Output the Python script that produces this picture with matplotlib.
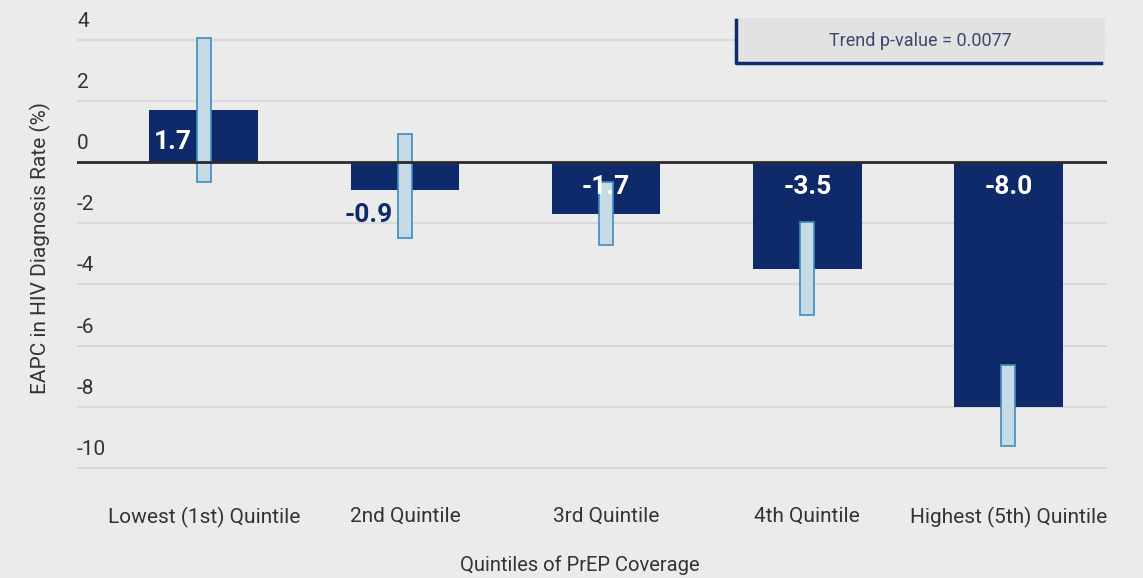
import matplotlib.pyplot as plt
from matplotlib.patches import Rectangle
from matplotlib.transforms import ScaledTranslation
import numpy as np

categories = ['Lowest (1st) Quintile', '2nd Quintile', '3rd Quintile',
              '4th Quintile', 'Highest (5th) Quintile']
eapc = [1.7, -0.9, -1.7, -3.5, -8.0]
ci_low = [-0.65, -2.5, -2.7, -5.0, -9.3]
ci_high = [4.05, 0.9, -0.65, -1.95, -6.65]
value_labels = ['1.7', '-0.9', '-1.7', '-3.5', '-8.0']
yticks = [4, 2, 0, -2, -4, -6, -8, -10]
trend_text = 'Trend p-value = 0.0077'

NAVY = '#0f2a6b'
BG = '#ebebeb'
GRID = '#d9d9d9'
TXT = '#333333'
plt.rcParams['font.family'] = ['Roboto', 'DejaVu Sans']

fig = plt.figure(figsize=(11.43, 5.78), dpi=100, facecolor=BG)
ax = fig.add_axes([77 / 1143, 100 / 578, 1030 / 1143, 468 / 578])
ax.set_facecolor(BG)

x = np.arange(len(categories))
bw = 0.54
ax.bar(x, eapc, width=bw, color=NAVY, zorder=3)

# confidence interval boxes
for xi, lo, hi in zip(x, ci_low, ci_high):
    ax.add_patch(Rectangle((xi - 0.035, lo), 0.07, hi - lo, facecolor='#c6dbe5',
                           edgecolor='#3d8cc0', lw=1.2, zorder=4))

ax.set_xlim(-0.63, 4.49)
ax.set_ylim(-10.33, 4.97)

for v in yticks:
    if v == 0:
        ax.axhline(0, color='#2b2b2b', lw=2, zorder=5)
    else:
        ax.axhline(v, color=GRID, lw=1.5, zorder=1)

ax.set_yticks(yticks)
ax.set_yticklabels([str(t) for t in yticks])
ax.tick_params(axis='y', length=0, pad=0, labelsize=15, labelcolor=TXT)
off = ScaledTranslation(0, 13 / 100, fig.dpi_scale_trans)
for lab in ax.get_yticklabels():
    lab.set_ha('left')
    lab.set_va('baseline')
    lab.set_transform(lab.get_transform() + off)

ax.set_xticks(x)
ax.set_xticklabels(categories)
ax.tick_params(axis='x', length=0, pad=21, labelsize=15, labelcolor=TXT)

for s in ax.spines.values():
    s.set_visible(False)

# value labels
for i, (xi, v, lab) in enumerate(zip(x, eapc, value_labels)):
    if i == 0:
        ax.annotate(lab, (xi - bw / 2, 0), xytext=(4, 20), textcoords='offset pixels',
                    ha='left', va='center', color='white', fontsize=19,
                    fontweight='bold', zorder=6)
    elif i == 1:
        ax.annotate(lab, (xi, v), xytext=(-36, -25), textcoords='offset pixels',
                    ha='center', va='center', color=NAVY, fontsize=19,
                    fontweight='bold', zorder=6)
    else:
        ax.annotate(lab, (xi, 0), xytext=(0, -25), textcoords='offset pixels',
                    ha='center', va='center', color='white', fontsize=19,
                    fontweight='bold', zorder=6)

# trend box
ax.add_patch(Rectangle((2.64, 3.2), 1.84, 1.5, facecolor='#e2e2e2',
                       edgecolor='none', clip_on=False, zorder=2))
ax.plot([2.645, 2.645, 4.46], [4.63, 3.25, 3.25], color=NAVY, lw=2.5,
        clip_on=False, zorder=3)
ax.text(3.56, 3.95, trend_text, ha='center', va='center', fontsize=13,
        color='#3b4a6b', zorder=4)

fig.text(40 / 1143, 1 - 248 / 578, 'EAPC in HIV Diagnosis Rate (%)', rotation=90,
         ha='center', va='center', fontsize=15, color=TXT)
fig.text(580 / 1143, 1 - 565 / 578, 'Quintiles of PrEP Coverage', ha='center',
         va='center', fontsize=14.5, color=TXT)

fig.savefig('out.png', dpi=100, facecolor=BG)
